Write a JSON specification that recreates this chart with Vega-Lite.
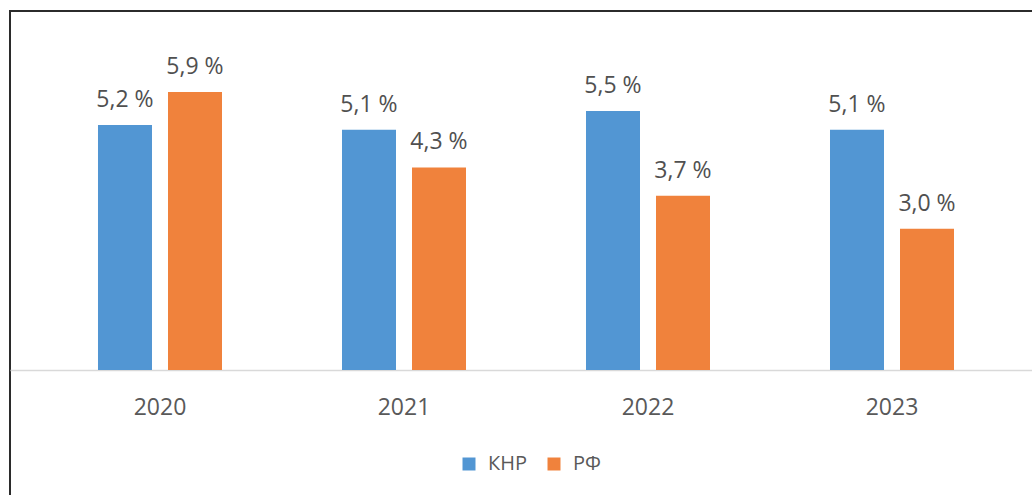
{
  "$schema": "https://vega.github.io/schema/vega-lite/v6.json",
  "autosize": {"type": "none"},
  "width": 1025,
  "height": 487,
  "padding": {"left": 10, "top": 11, "right": -3, "bottom": -3},
  "background": "white",
  "config": {
    "font": "Open Sans",
    "view": {"stroke": "#2b2b2b", "strokeWidth": 2}
  },
  "data": {
    "values": [
      {"year": "2020", "country": "КНР", "v": 5.2, "label": "5,2 %"},
      {"year": "2020", "country": "РФ", "v": 5.9, "label": "5,9 %"},
      {"year": "2021", "country": "КНР", "v": 5.1, "label": "5,1 %"},
      {"year": "2021", "country": "РФ", "v": 4.3, "label": "4,3 %"},
      {"year": "2022", "country": "КНР", "v": 5.5, "label": "5,5 %"},
      {"year": "2022", "country": "РФ", "v": 3.7, "label": "3,7 %"},
      {"year": "2023", "country": "КНР", "v": 5.1, "label": "5,1 %"},
      {"year": "2023", "country": "РФ", "v": 3.0, "label": "3,0 %"}
    ]
  },
  "encoding": {
    "x": {
      "field": "year", "type": "nominal",
      "scale": {"paddingInner": 0.4918, "paddingOuter": 0.3463, "align": 0.5207},
      "axis": {
        "orient": "bottom", "offset": -128, "title": null, "labelAngle": 0,
        "ticks": false, "domainColor": "#d9d9d9", "domainWidth": 1.5,
        "labelFontSize": 23, "labelColor": "#595959", "labelPadding": 26
      }
    },
    "xOffset": {
      "field": "country", "type": "nominal",
      "scale": {"paddingInner": 0.2286, "paddingOuter": 0}
    },
    "y": {
      "field": "v", "type": "quantitative",
      "scale": {"domain": [-2.718, 7.622], "nice": false, "zero": false},
      "axis": null
    }
  },
  "layer": [
    {
      "mark": {"type": "bar"},
      "encoding": {
        "y2": {"datum": 0},
        "color": {
          "field": "country", "type": "nominal",
          "scale": {"domain": ["КНР", "РФ"], "range": ["#5296D3", "#F0823C"]},
          "legend": {
            "orient": "none", "legendX": 449, "legendY": 443, "direction": "horizontal",
            "title": null, "symbolType": "square", "symbolSize": 169, "symbolStrokeWidth": 0,
            "labelFontSize": 20, "labelColor": "#595959", "labelOffset": 9,
            "columnPadding": 17, "padding": 0
          }
        }
      }
    },
    {
      "mark": {"type": "text", "baseline": "alphabetic", "dy": -18, "fontSize": 23, "color": "#505050"},
      "encoding": {"text": {"field": "label"}}
    }
  ]
}
